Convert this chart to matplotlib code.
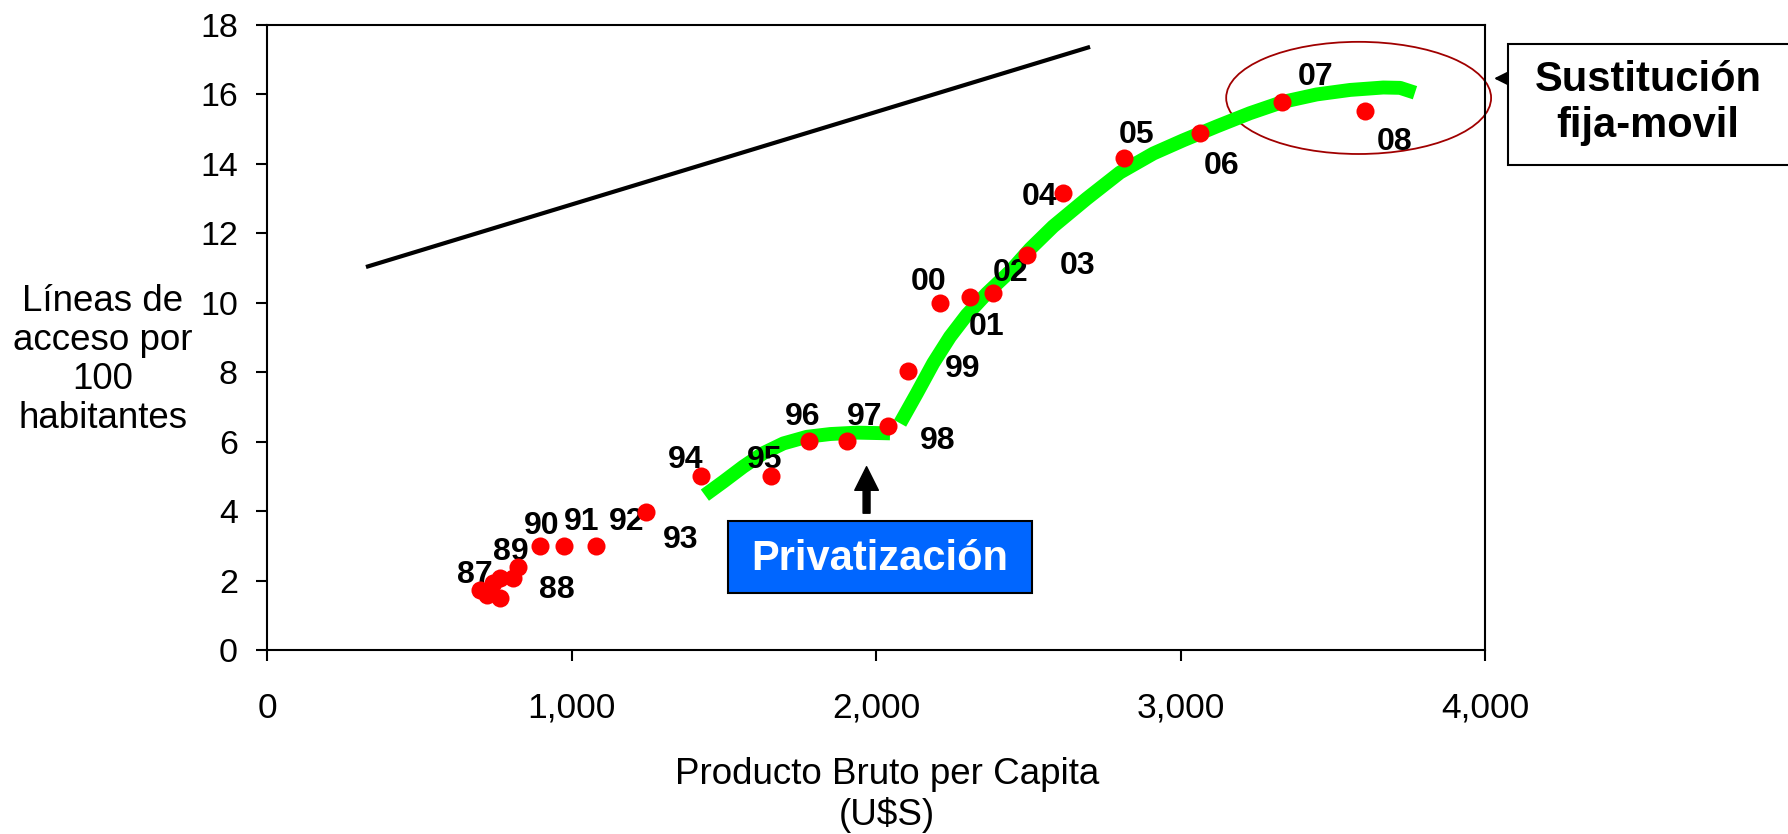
import matplotlib
matplotlib.use('Agg')
import matplotlib.pyplot as plt
from matplotlib.patches import Ellipse, Rectangle, FancyArrowPatch
from matplotlib.ticker import FuncFormatter, MultipleLocator

plt.rcParams['font.family'] = ['Liberation Sans', 'DejaVu Sans']

# datos: PBI per capita (U$S) vs lineas por 100 habitantes
gdp = [700, 721, 742, 765, 765, 808, 824, 897, 975, 1080, 1245, 1424, 1655, 1780,
       1905, 2041, 2104, 2210, 2310, 2385, 2497, 2615, 2815, 3064, 3332, 3606]
lineas = [1.73, 1.58, 1.93, 2.07, 1.50, 2.07, 2.39, 3.0, 3.0, 3.0, 3.97, 5.01, 5.01, 6.02,
          6.02, 6.45, 8.04, 10.0, 10.18, 10.29, 11.38, 13.17, 14.16, 14.88, 15.79, 15.52]
anios = ['87', '', '', '', '88', '', '89', '90', '91', '92', '93', '94', '95', '96',
         '97', '98', '99', '00', '01', '02', '03', '04', '05', '06', '07', '08']

# tendencia (linea negra)
tend_x = [325, 2703]
tend_y = [11.03, 17.37]

# curvas verdes
tramo1_x = [1438, 1499, 1564, 1630, 1696, 1773, 1850, 1937, 2046]
tramo1_y = [4.46, 4.85, 5.28, 5.67, 5.95, 6.14, 6.22, 6.26, 6.24]
tramo2_x = [2079, 2134, 2188, 2243, 2298, 2364, 2440, 2506, 2582, 2692, 2801, 2911,
            3009, 3064, 3119, 3228, 3338, 3447, 3557, 3666, 3721, 3770]
tramo2_y = [6.53, 7.39, 8.26, 9.02, 9.65, 10.27, 10.90, 11.55, 12.20, 13.00, 13.75, 14.30,
            14.68, 14.88, 15.08, 15.46, 15.79, 16.00, 16.13, 16.20, 16.19, 16.05]

# desplazamiento de las etiquetas (puntos)
offs = [(-4, 11), (0, 0), (0, 0), (0, 0), (41, 6), (0, 0), (-5, 11), (1, 14), (13, 17.5),
        (22, 17), (24.5, -20), (-10.6, 11.5), (-4.3, 11.5), (-4.5, 17), (12.5, 17),
        (35.7, -10.6), (39.6, 1.2), (-8.4, 15), (11.3, -21.6), (12.5, 14), (36.3, -7.9),
        (-16.8, -3.1), (8.6, 16.8), (15.6, -23.5), (24.7, 18), (21.6, -22.1)]

fig = plt.figure(figsize=(17.88, 8.34), dpi=100)
ax = fig.add_axes([0.14933, 0.22062, 0.68121, 0.74940])

ax.plot(tend_x, tend_y, color='black', lw=3, solid_capstyle='butt')
ax.plot(tramo1_x, tramo1_y, color='#00FF00', lw=10, solid_capstyle='butt', solid_joinstyle='round')
ax.plot(tramo2_x, tramo2_y, color='#00FF00', lw=10, solid_capstyle='butt', solid_joinstyle='round')
ax.plot(gdp, lineas, 'o', color='#FF0000', ms=13, mec='none', zorder=4)

for x, y, t, (dx, dy) in zip(gdp, lineas, anios, offs):
    if t:
        ax.annotate(t, (x, y), xytext=(dx, dy), textcoords='offset points',
                    ha='center', va='center', fontsize=23, fontweight='bold')

ax.add_patch(Ellipse((3585, 15.90), 870, 3.23, fill=False, edgecolor='#A00000', lw=1.3, clip_on=False))

# Privatizacion
ax.add_patch(Rectangle((1513, 1.63), 1000, 2.09, facecolor='#0066FF', edgecolor='black', lw=1.5, zorder=5))
ax.text(2013, 2.62, 'Privatización', color='white', fontsize=30, fontweight='bold',
        ha='center', va='center', zorder=6)
ax.annotate('', xy=(1969, 5.28), xytext=(1969, 3.94),
            arrowprops=dict(width=5, headwidth=17, headlength=17, color='black', shrink=0))

ax.set_xlim(0, 4000)
ax.set_ylim(0, 18)
ax.xaxis.set_major_locator(MultipleLocator(1000))
ax.yaxis.set_major_locator(MultipleLocator(2))
ax.xaxis.set_major_formatter(FuncFormatter(lambda v, p: f'{int(v):,}'))
ax.tick_params(direction='out', length=8, width=1.5, top=False, right=False)
ax.tick_params(axis='x', pad=22, labelsize=25.5)
ax.tick_params(axis='y', pad=13, labelsize=24.5)
for s in ax.spines.values():
    s.set_linewidth(1.5)

fig.text(0.0574, 0.568, 'Líneas de\nacceso por\n100\nhabitantes', ha='center', va='center',
         fontsize=26.5, linespacing=1.15)
fig.text(0.496, 0.0468, 'Producto Bruto per Capita\n(U\\$S)', ha='center', va='center',
         fontsize=26.5, linespacing=1.2)

# Sustitucion fija-movil
fig.patches.append(Rectangle((0.8434, 0.802), 0.2, 0.145, transform=fig.transFigure,
                             facecolor='white', edgecolor='black', lw=1.5))
fig.text(0.9217, 0.8765, 'Sustitución\nfija-movil', ha='center', va='center',
         fontsize=30, fontweight='bold', linespacing=1.2)
fig.add_artist(FancyArrowPatch((0.8434, 0.906), (0.8356, 0.906),
               transform=fig.transFigure, arrowstyle='-|>,head_length=0.6,head_width=0.3',
               mutation_scale=20, color='black', lw=1.5, shrinkA=0, shrinkB=0))

fig.savefig('out.png', dpi=100)
